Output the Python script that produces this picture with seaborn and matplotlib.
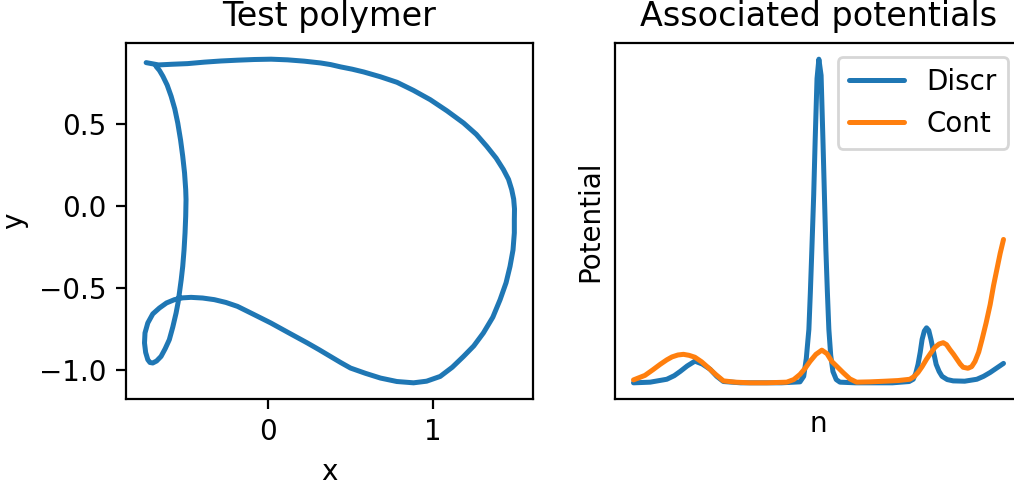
import numpy as np
import pandas as pd
import matplotlib
matplotlib.use("Agg")
import matplotlib.pyplot as plt
import seaborn as sns

# Polymer backbone coordinates, in order along the chain (rows of ten)
polymer_x = [-0.735, -0.66, -0.58, -0.484, -0.383, -0.283, -0.182, -0.082, 0.02, 0.119,
             0.22, 0.319, 0.38, 0.44, 0.51, 0.58, 0.68, 0.781, 0.88, 0.982,
             1.083, 1.183, 1.26, 1.323, 1.38, 1.424, 1.455, 1.474, 1.486, 1.491,
             1.49, 1.49, 1.482, 1.464, 1.44, 1.404, 1.36, 1.303, 1.245, 1.183,
             1.115, 1.042, 0.96, 0.881, 0.78, 0.681, 0.59, 0.5, 0.44, 0.38,
             0.31, 0.239, 0.128, 0.018, -0.083, -0.183, -0.253, -0.323, -0.394, -0.464,
             -0.515, -0.564, -0.612, -0.655, -0.695, -0.725, -0.742, -0.745, -0.738, -0.725,
             -0.712, -0.695, -0.672, -0.645, -0.62, -0.595, -0.574, -0.554, -0.542, -0.534,
             -0.523, -0.514, -0.506, -0.5, -0.496, -0.494, -0.496, -0.503, -0.514, -0.527,
             -0.544, -0.562, -0.584, -0.608, -0.634, -0.655, -0.675]
polymer_y = [0.872, 0.858, 0.862, 0.866, 0.875, 0.882, 0.887, 0.891, 0.893, 0.889,
             0.881, 0.87, 0.86, 0.846, 0.832, 0.815, 0.786, 0.752, 0.703, 0.646,
             0.578, 0.504, 0.435, 0.362, 0.29, 0.22, 0.16, 0.098, 0.04, -0.02,
             -0.085, -0.166, -0.27, -0.37, -0.47, -0.573, -0.68, -0.776, -0.855, -0.919,
             -0.985, -1.041, -1.07, -1.08, -1.072, -1.051, -1.022, -0.99, -0.956, -0.92,
             -0.878, -0.837, -0.776, -0.715, -0.664, -0.614, -0.59, -0.573, -0.563, -0.559,
             -0.562, -0.573, -0.593, -0.624, -0.66, -0.715, -0.776, -0.837, -0.895, -0.939,
             -0.956, -0.959, -0.947, -0.919, -0.872, -0.817, -0.74, -0.654, -0.59, -0.532,
             -0.45, -0.37, -0.27, -0.166, -0.065, 0.037, 0.098, 0.2, 0.301, 0.4,
             0.504, 0.59, 0.667, 0.735, 0.789, 0.825, 0.849]

# Potentials along the chain index n
discr_n = [0, 4.5, 9, 11, 12.6, 14.5, 16.6, 18.6, 20.7, 22.5,
           24.3, 29, 34.2, 40, 45.0, 46.0, 46.7, 47.4, 47.8, 48.2,
           48.7, 49.1, 49.6, 50.1, 50.7, 51.2, 51.6, 52.0, 52.4, 52.8,
           53.3, 53.9, 54.8, 55.8, 60, 63.9, 70, 74.5, 75.6, 76.3,
           76.9, 77.5, 78.0, 78.6, 79.2, 79.8, 80.4, 81.1, 81.8, 82.6,
           83.4, 84.8, 86.4, 89.5, 92.8, 94.6, 96.4, 98.2, 100]
discr_v = [0.0, 0.002, 0.011, 0.022, 0.035, 0.052, 0.067, 0.058, 0.042, 0.02,
           0.004, 0.0, 0.0, 0.0, 0.003, 0.02, 0.075, 0.165, 0.28, 0.41,
           0.58, 0.75, 0.94, 1.0, 0.95, 0.75, 0.58, 0.41, 0.28, 0.165,
           0.085, 0.035, 0.01, 0.002, 0.0, 0.0, 0.0, 0.004, 0.011, 0.03,
           0.057, 0.095, 0.134, 0.16, 0.17, 0.162, 0.134, 0.095, 0.057, 0.035,
           0.02, 0.01, 0.006, 0.005, 0.011, 0.02, 0.032, 0.046, 0.06]
cont_n = [0, 3.1, 5.2, 7.2, 9.0, 10.4, 12.0, 13.5, 15.0, 16.6,
          18.4, 20.1, 22.2, 24.3, 27.5, 31.5, 36, 41.4, 43.3, 45.0,
          46.4, 47.7, 49.3, 50.9, 52.3, 53.6, 55.2, 56.7, 58.5, 60.3,
          64, 68.0, 71.5, 74.7, 75.9, 76.9, 78.0, 79.2, 80.4, 81.5,
          82.6, 83.7, 84.6, 85.5, 86.5, 87.4, 88.3, 89.1, 90.4, 91.4,
          92.3, 93.3, 94.2, 95.3, 96.4, 97.3, 98.2, 99.1, 100]
cont_v = [0.009, 0.023, 0.04, 0.057, 0.071, 0.08, 0.086, 0.088, 0.085, 0.079,
          0.065, 0.048, 0.026, 0.006, 0.002, 0.0, 0.0, 0.002, 0.01, 0.026,
          0.045, 0.066, 0.088, 0.101, 0.09, 0.066, 0.048, 0.031, 0.012, 0.002,
          0.003, 0.005, 0.007, 0.011, 0.02, 0.032, 0.05, 0.073, 0.093, 0.11,
          0.12, 0.124, 0.118, 0.103, 0.088, 0.073, 0.058, 0.048, 0.045, 0.05,
          0.066, 0.095, 0.134, 0.185, 0.242, 0.3, 0.35, 0.4, 0.443]

plt.rcParams.update({"font.size": 10, "axes.titlesize": 12})
LW = 1.8
line_kw = dict(linewidth=LW, estimator=None, solid_joinstyle="round",
               solid_capstyle="round")

W, H = 1014, 484
fig = plt.figure(figsize=(W / 200, H / 200), dpi=200)
ax1 = fig.add_axes([126 / W, (H - 399) / H, 407 / W, 356 / H])
ax2 = fig.add_axes([615 / W, (H - 399) / H, 407 / W, 356 / H])

# Left panel: the polymer conformation
sns.lineplot(x=polymer_x, y=polymer_y, sort=False, ax=ax1, color="#1f77b4", **line_kw)
ax1.set_xticks([0, 1])
ax1.set_yticks([-1.0, -0.5, 0.0, 0.5])
ax1.set_title("Test polymer")
ax1.set_xlabel("x")
ax1.set_ylabel("y")

# Right panel: discrete vs continuous potentials
sns.lineplot(x=discr_n, y=discr_v, ax=ax2, color="#1f77b4", label="Discr", **line_kw)
sns.lineplot(x=cont_n, y=cont_v, ax=ax2, color="#ff7f0e", label="Cont", **line_kw)
ax2.set_xticks([])
ax2.set_yticks([])
ax2.set_title("Associated potentials")
ax2.set_xlabel("n")
ax2.set_ylabel("Potential")
ax2.legend(loc="upper right")

fig.savefig("out.png", dpi=200)
